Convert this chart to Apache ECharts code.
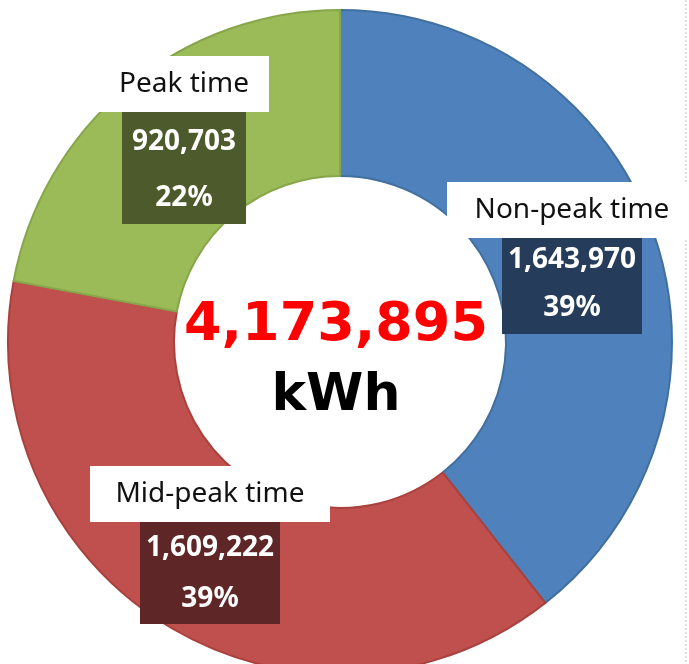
<!DOCTYPE html>
<html>
<head>
<meta charset="utf-8">
<script src="https://cdn.jsdelivr.net/npm/echarts@6/dist/echarts.min.js"></script>
<style>
  html, body { margin: 0; padding: 0; background: #fff; }
  #chart { width: 689px; height: 664px; }
</style>
</head>
<body>
<div id="chart"></div>
<script>
// data
const categories = ['Non-peak time', 'Mid-peak time', 'Peak time']
const values = [1643970, 1609222, 920703]
const unit = 'kWh'

// styles
const sliceColors = ['#4F81BD', '#C0504D', '#9BBB59']
const borderColors = ['#41709F', '#A9423F', '#87A64A']
const boxColors = ['#253D5A', '#5E2626', '#4D5B2C']
const labelPos = [[572, 258], [210, 545], [184, 140]]
const nameBoxW = [250, 240, 170]
const valBoxW = [140, 140, 124]
const valBoxH1 = [45, 53, 60]
const valBoxH2 = [51, 49, 52]

const total = values.reduce((a, b) => a + b, 0)
const fmt = (v) => v.toLocaleString('en-US')
const labelFont = '"Noto Sans", "Open Sans", sans-serif'

const chart = echarts.init(document.getElementById('chart'))

const pieData = categories.map((name, i) => ({
  name: name,
  value: values[i],
  itemStyle: { color: sliceColors[i], borderColor: borderColors[i], borderWidth: 2 },
  label: {
    rich: {
      n: {
        width: nameBoxW[i], height: 56, lineHeight: 56,
        backgroundColor: '#ffffff', color: '#111',
        fontSize: 28, fontFamily: labelFont, align: 'center'
      },
      v: {
        width: valBoxW[i], height: valBoxH1[i], lineHeight: valBoxH1[i],
        backgroundColor: boxColors[i], color: '#fff',
        fontSize: 28, fontWeight: 'bold', fontFamily: labelFont, align: 'center'
      },
      p: {
        width: valBoxW[i], height: valBoxH2[i], lineHeight: valBoxH2[i],
        backgroundColor: boxColors[i], color: '#fff',
        fontSize: 28, fontWeight: 'bold', fontFamily: labelFont, align: 'center'
      }
    }
  }
}))

const option = {
  animation: false,
  backgroundColor: '#ffffff',
  series: [
    {
      type: 'pie',
      center: [340, 342],
      radius: [166, 332],
      startAngle: 90,
      clockwise: true,
      avoidLabelOverlap: false,
      emphasis: { scale: false },
      label: {
        show: true,
        position: 'inside',
        formatter: (p) => '{n|' + p.name + '}\n{v|' + fmt(p.value) + '}\n{p|' + Math.round(p.value / total * 100) + '%}'
      },
      labelLine: { show: false },
      labelLayout: (params) => ({
        x: labelPos[params.dataIndex][0],
        y: labelPos[params.dataIndex][1],
        align: 'center',
        verticalAlign: 'middle'
      }),
      data: pieData
    }
  ],
  graphic: [
    {
      type: 'text',
      x: 336, y: 326,
      style: {
        text: fmt(total),
        fill: '#FF0000',
        font: 'bold 54px "DejaVu Sans", sans-serif',
        align: 'center',
        verticalAlign: 'middle'
      }
    },
    {
      type: 'text',
      x: 336, y: 396,
      style: {
        text: unit,
        fill: '#000000',
        font: 'bold 52px "DejaVu Sans", sans-serif',
        align: 'center',
        verticalAlign: 'middle'
      }
    },
    {
      type: 'line',
      shape: { x1: 686, y1: 0, x2: 686, y2: 664 },
      style: { stroke: '#bbbbbb', lineWidth: 1, lineDash: [2, 2] }
    }
  ]
}

chart.setOption(option)
</script>
</body>
</html>
